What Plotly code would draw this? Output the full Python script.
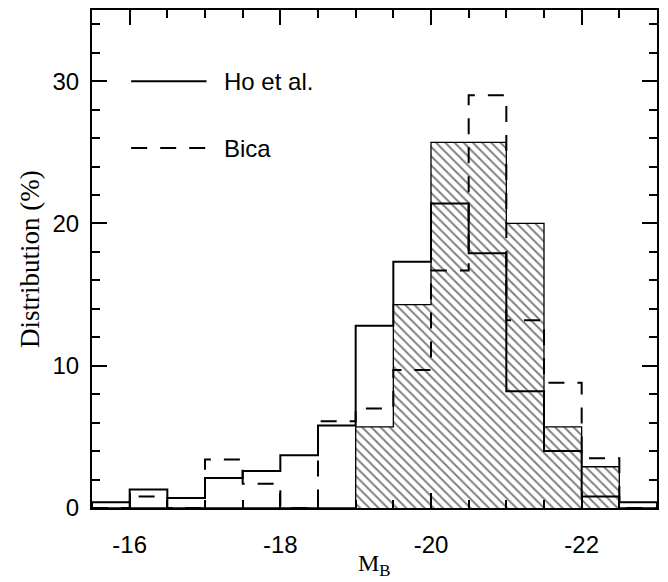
import plotly.graph_objects as go

# Bin edges (M_B), 0.5 mag bins
edges = [-15.5, -16.0, -16.5, -17.0, -17.5, -18.0, -18.5, -19.0, -19.5,
         -20.0, -20.5, -21.0, -21.5, -22.0, -22.5, -23.0]
# Distribution (%) per bin
ho = [0.4, 1.3, 0.7, 2.1, 2.6, 3.7, 5.8, 12.8, 17.3, 21.4, 17.9, 8.2, 4.0, 0.8, 0.4]
bica = [0.0, 0.8, 0.0, 3.4, 1.7, 0.0, 6.1, 7.0, 9.7, 16.7, 29.0, 13.2, 8.8, 3.5, 0.0]
sample = [0.0, 0.0, 0.0, 0.0, 0.0, 0.0, 0.0, 5.7, 14.3, 25.7, 25.7, 20.0, 5.7, 2.9, 0.0]

xtick_vals = [-16, -18, -20, -22]
xtick_text = ["-16", "-18", "-20", "-22"]
ytick_vals = [0, 10, 20, 30]

legend_names = ["Ho et al.", "Bica"]
x_title = "M<sub>B</sub>"
y_title = "Distribution (%)"


def step(vals):
    xs = [edges[0]] + edges[:-1] + [edges[-1], edges[-1]]
    ys = [0] + list(vals) + [vals[-1], 0]
    return xs, ys


fig = go.Figure()

xs, ys = step(sample)
fig.add_trace(go.Scatter(
    x=xs, y=ys, mode="lines", line=dict(shape="hv", color="black", width=1.3),
    fill="tozeroy", fillcolor="white",
    fillpattern=dict(shape="\\", fgcolor="black", bgcolor="white", size=6.5, solidity=0.3),
    showlegend=False, hoverinfo="skip"))

xs, ys = step(ho)
fig.add_trace(go.Scatter(
    x=xs, y=ys, mode="lines", line=dict(shape="hv", color="black", width=2),
    name=legend_names[0], showlegend=False))

xs, ys = step(bica)
fig.add_trace(go.Scatter(
    x=xs, y=ys, mode="lines", line=dict(shape="hv", color="black", width=2, dash="16px,13px"),
    name=legend_names[1], showlegend=False))

# manual legend (drawn in data space, top-left)
leg_y = [30.0, 25.3]
leg_dash = ["solid", "16px,13px"]
for name, yy, dsh in zip(legend_names, leg_y, leg_dash):
    fig.add_shape(type="line", xref="x", yref="y", x0=-16.02, x1=-17.02, y0=yy, y1=yy,
                  line=dict(color="black", width=2, dash=dsh))
    fig.add_annotation(x=-17.22, y=yy, xref="x", yref="y", text=name, showarrow=False,
                       xanchor="left", yanchor="middle",
                       font=dict(family="Liberation Sans, Arial", size=24, color="black"))

# axis titles
fig.add_annotation(x=0.5, y=0, xref="paper", yref="paper", text=x_title, showarrow=False,
                   xanchor="center", yanchor="middle", yshift=-57,
                   font=dict(family="Liberation Serif, Times New Roman", size=24, color="black"))
fig.add_annotation(x=0, y=0.5, xref="paper", yref="paper", text=y_title, showarrow=False,
                   xanchor="center", yanchor="middle", xshift=-62, textangle=-90,
                   font=dict(family="Liberation Serif, Times New Roman", size=27, color="black"))

axis_common = dict(
    showline=True, linecolor="black", linewidth=2, mirror="ticks",
    ticks="inside", tickcolor="black", tickwidth=1.5, ticklen=15,
    showgrid=False, zeroline=False, automargin=False,
    tickfont=dict(family="Liberation Sans, Arial", size=24, color="black"),
)

fig.update_xaxes(
    range=[-15.5, -23], tickvals=xtick_vals, ticktext=xtick_text,
    minor=dict(dtick=0.5, tick0=-16, ticks="inside", ticklen=8, tickcolor="black", tickwidth=1.5),
    ticklabelstandoff=14,
    **axis_common)
fig.update_yaxes(
    range=[0, 35], tickvals=ytick_vals,
    minor=dict(dtick=2, tick0=0, ticks="inside", ticklen=8, tickcolor="black", tickwidth=1.5),
    ticklabelstandoff=6,
    **axis_common)

fig.update_layout(
    width=668, height=582,
    margin=dict(l=92, r=11, t=10, b=74),
    plot_bgcolor="white", paper_bgcolor="white",
    showlegend=False,
)

fig.write_html("out.html", config={"displayModeBar": False},
               post_script="document.body.style.margin='0';document.body.style.overflow='hidden';")
